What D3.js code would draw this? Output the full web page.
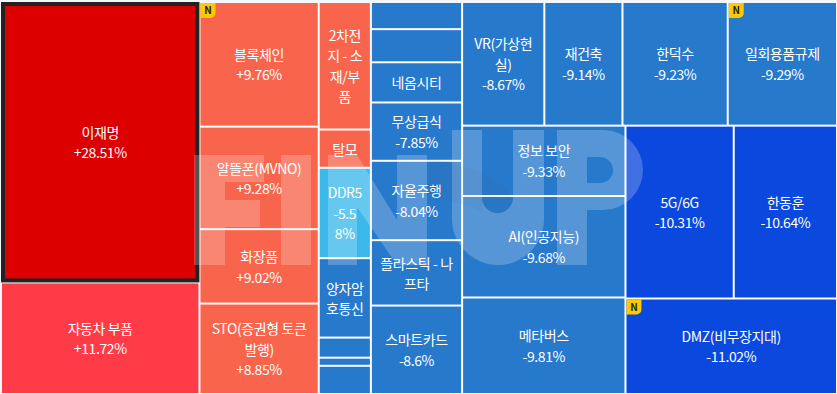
<!DOCTYPE html>
<html>
<head>
<meta charset="utf-8">
<script src="https://cdn.jsdelivr.net/npm/d3@7"></script>
<style>
html, body { margin: 0; padding: 0; background: #f4f7fc; overflow: hidden; }
svg { display: block; }
text { font-family: "Noto Sans CJK KR", "Noto Sans", sans-serif; }
</style>
</head>
<body>
<div id="chart"></div>
<script>
'use strict';

// themes. empty name / null change = label hidden in the original
const names = ['이재명', '자동차 부품',
    '블록체인', '알뜰폰(MVNO)', '화장품', 'STO(증권형 토큰 발행)',
    '2차전지 - 소재/부품', '탈모', 'DDR5', '양자암호통신', '', '', '',
    '', '', '네옴시티', '무상급식', '자율주행', '플라스틱 - 나프타', '스마트카드',
    'VR(가상현실)', '재건축', '한덕수', '일회용품규제',
    '정보 보안', 'AI(인공지능)', '메타버스',
    '5G/6G', '한동훈', 'DMZ(비무장지대)'];

const changes = [28.51, 11.72,
    9.76, 9.28, 9.02, 8.85,
    null, null, -5.58, null, null, null, null,
    null, null, null, -7.85, -8.04, null, -8.6,
    -8.67, -9.14, -9.23, -9.29,
    -9.33, -9.68, -9.81,
    -10.31, -10.64, -11.02];

// cell size weights, estimated from the areas
const weights = [552.4, 219.8,
    147.6, 121.4, 88.1, 107.1,
    66.0, 19.8, 46.8, 41.1, 10.4, 4.2, 14.6,
    24.6, 30.0, 36.4, 52.8, 71.9, 59.2, 80.1,
    100.9, 95.9, 129.2, 134.1,
    114.1, 164.6, 156.5,
    185.8, 177.2, 200.5];

// colour band of each cell
const bands = [0, 1,
    2, 2, 2, 2,
    2, 2, 3, 4, 4, 4, 4,
    4, 4, 4, 4, 4, 4, 4,
    4, 4, 4, 4,
    4, 4, 4,
    5, 5, 5];

const newFlags = ['블록체인', '일회용품규제', 'DMZ(비무장지대)'];
const selectedName = '이재명';

// where each cell hangs in the tree
const branches = ['c1', 'c1',
    'c2', 'c2', 'c2', 'c2',
    'c3', 'c3', 'c3', 'c3', 'c3', 'c3', 'c3',
    'c4', 'c4', 'c4', 'c4', 'c4', 'c4', 'c4',
    'r/top', 'r/top', 'r/top', 'r/top',
    'r/bot/left', 'r/bot/left', 'r/bot/left',
    'r/bot/right/up', 'r/bot/right/up', 'r/bot/right'];

const bandColors = ['#dc0000', '#ff3b47', '#f8654c', '#3bb9ea', '#2779cc', '#0b48dd'];

const width = 837;
const height = 394;

let config = {
    left : 2,
    top : 3,
    gap : 2,
    textPad : 6,
    textShift : 1,
    fontSize : 14,
    lineHeight : 20.5
};

let svg = d3.select('#chart')
    .append('svg')
    .attr('width', width)
    .attr('height', height);

let buildTree = function buildTree() {

    let root = { children : [] };

    names.forEach((name, i) => {
        let node = root;
        branches[i].split('/').forEach((key) => {
            let next = node.children.find((d) => d.key === key);
            if (!next) {
                next = { key : key, children : [] };
                node.children.push(next);
            }
            node = next;
        });
        node.children.push({ name : name, change : changes[i], weight : weights[i], band : bands[i] });
    });

    return root;
}

// columns and rows take turns going down the tree
let tile = function tile(node, x0, y0, x1, y1) {
    (node.depth % 2 === 0 ? d3.treemapDice : d3.treemapSlice)(node, x0, y0, x1, y1);
}

let hierarchy = d3.hierarchy(buildTree()).sum((d) => d.weight || 0);

d3.treemap()
    .size([834, 390])
    .paddingInner(config.gap)
    .tile(tile)(hierarchy);

let layer = svg.append('g')
    .attr('transform', 'translate(' + config.left + ',' + config.top + ')');

layer.append('rect')
    .attr('width', 834)
    .attr('height', 390)
    .attr('fill', '#fff');

let cells = layer.selectAll('.cell')
    .data(hierarchy.leaves())
    .enter()
    .append('g')
    .attr('class', 'cell')
    .attr('transform', (d) => 'translate(' + d.x0 + ',' + d.y0 + ')');

cells.append('rect')
    .attr('width', (d) => d.x1 - d.x0)
    .attr('height', (d) => d.y1 - d.y0)
    .attr('fill', (d) => bandColors[d.data.band]);

// thick dark frame on the selected theme
cells.filter((d) => d.data.name === selectedName)
    .append('rect')
    .attr('x', 1)
    .attr('y', 1)
    .attr('width', (d) => d.x1 - d.x0 - 2)
    .attr('height', (d) => d.y1 - d.y0 - 2)
    .attr('fill', 'none')
    .attr('stroke', '#222')
    .attr('stroke-width', 4);

// breaks anywhere like word-break: break-all, but a % stays with the digit before it
let measure = svg.append('text')
    .attr('font-size', config.fontSize)
    .attr('letter-spacing', '-0.4px')
    .attr('visibility', 'hidden');

let wrap = function wrap(str, maxWidth) {
    let lines = [];
    let line = '';
    (str.match(/.%|./gu) || []).forEach((ch) => {
        measure.text((line + ch).trimEnd());
        if (line && measure.node().getComputedTextLength() > maxWidth) {
            lines.push(line.trim());
            line = ch;
        } else {
            line += ch;
        }
    });
    if (line) lines.push(line.trim());
    return lines;
}

let formatChange = function formatChange(v) {
    return (v > 0 ? '+' : '') + v + '%';
}

cells.each(function(d) {

    if (!d.data.name) return;

    let w = d.x1 - d.x0;
    let h = d.y1 - d.y0;
    let lines = wrap(d.data.name, w - config.textPad * 2);
    if (d.data.change !== null) {
        lines = lines.concat(wrap(formatChange(d.data.change), w - config.textPad * 2));
    }

    let top = h / 2 - (lines.length - 1) * config.lineHeight / 2 + config.textShift;

    d3.select(this).selectAll('.label')
        .data(lines)
        .enter()
        .append('text')
        .attr('class', 'label')
        .attr('x', w / 2)
        .attr('y', (l, i) => top + i * config.lineHeight)
        .attr('dy', '0.35em')
        .attr('text-anchor', 'middle')
        .attr('font-size', config.fontSize)
        .attr('letter-spacing', '-0.4px')
        .attr('fill', '#fff')
        .text((l) => l);
});

measure.remove();

// yellow N badge
let badges = cells.filter((d) => newFlags.includes(d.data.name));

badges.append('path')
    .attr('d', 'M0,0H15V10A5,5 0 0 1 10,15H0Z')
    .attr('fill', '#ffc800');

badges.append('text')
    .attr('x', 7.5)
    .attr('y', 7.5)
    .attr('dy', '0.36em')
    .attr('text-anchor', 'middle')
    .attr('font-size', 10)
    .attr('font-weight', 700)
    .attr('fill', '#222')
    .text('N');

// logo stamped over the chart
let logo = svg.append('g')
    .attr('class', 'logo')
    .attr('fill', '#fff')
    .attr('fill-opacity', 0.22);

logo.append('path').attr('d', 'M194,155H264V182H225V200H260V227H225V265H194Z');
logo.append('path').attr('d', 'M281,155H311V265H281Z');
logo.append('path').attr('d', 'M328,155H357L397,220V155H427V265H397L357,207V265H328Z');
logo.append('path').attr('d', 'M452,130H482V197.5A15.5,15.5 0 0 0 513,197.5V130H544V219A46,46 0 0 1 452,219Z');
logo.append('path')
    .attr('fill-rule', 'evenodd')
    .attr('d', 'M557,130H603A40,40 0 0 1 603,210H587V265H557ZM587,157V183H600A13,13 0 0 0 600,157Z');

svg.append('path')
    .attr('d', 'M427,158C462,163 498,176 513,198A15.5,15.5 0 0 1 482,197.5V212C470,205 445,200 427,196Z')
    .attr('fill', '#555')
    .attr('fill-opacity', 0.06);
</script>
</body>
</html>
